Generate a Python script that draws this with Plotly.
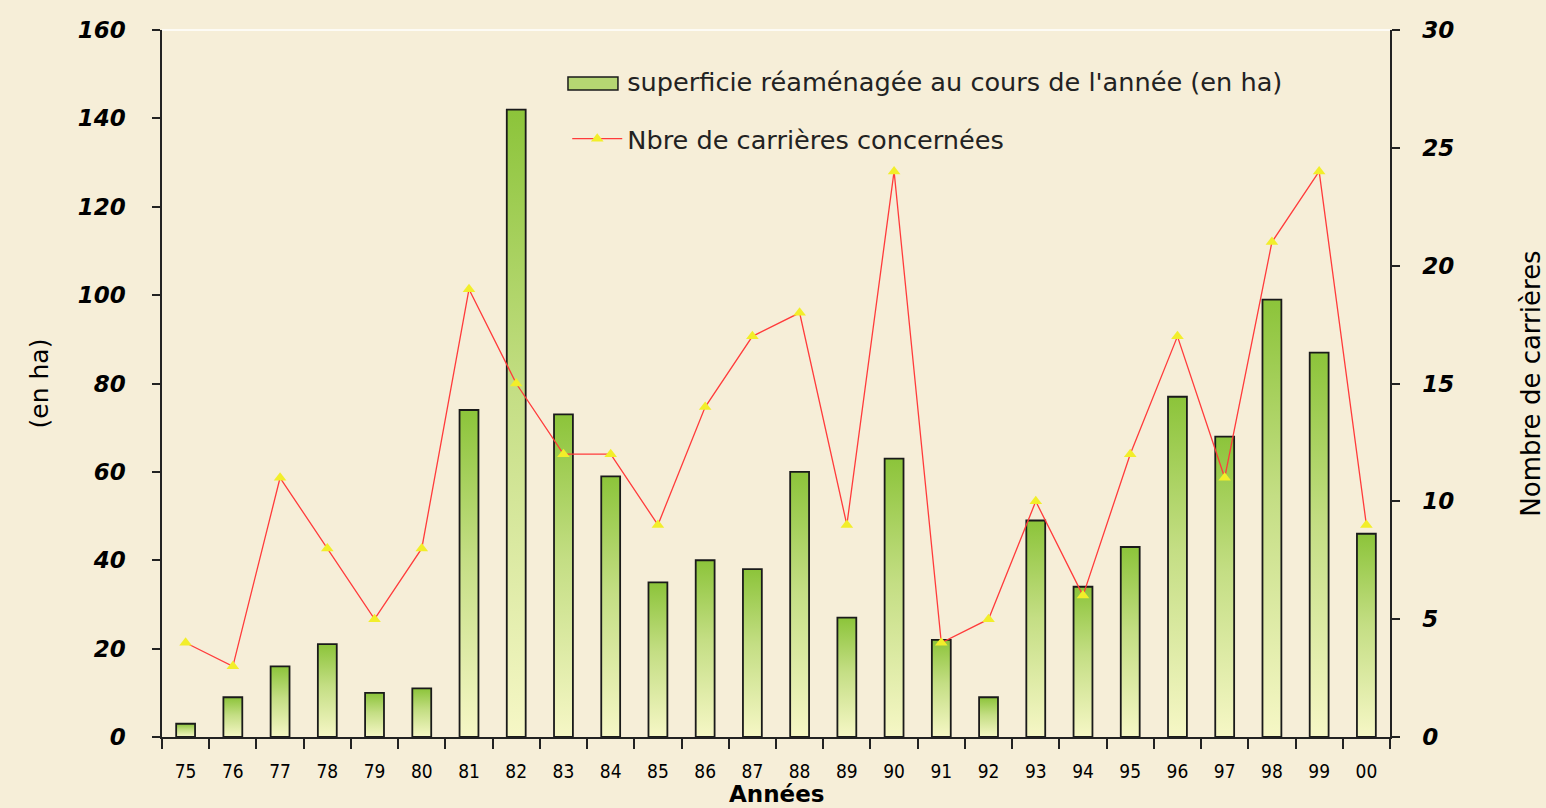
import plotly.graph_objects as go

# Années (labels) and values
annees = ["75", "76", "77", "78", "79", "80", "81", "82", "83", "84", "85", "86", "87",
          "88", "89", "90", "91", "92", "93", "94", "95", "96", "97", "98", "99", "00"]
superficie = [3, 9, 16, 21, 10, 11, 74, 142, 73, 59, 35, 40, 38,
              60, 27, 63, 22, 9, 49, 34, 43, 77, 68, 99, 87, 46]
carrieres = [4, 3, 11, 8, 5, 8, 19, 15, 12, 12, 9, 14, 17,
             18, 9, 24, 4, 5, 10, 6, 12, 17, 11, 21, 24, 9]

BG = "#f6eed8"
GREEN = "#8cc43a"
PALE = "#f6f7c6"
half_w = 0.2
idx = list(range(len(annees)))
sup_name = "superficie réaménagée au cours de l'année (en ha)"

fig = go.Figure()

# bars drawn as filled shapes so they can carry a vertical gradient
for i, v in zip(idx, superficie):
    fig.add_trace(go.Scatter(
        x=[i - half_w, i - half_w, i + half_w, i + half_w, i - half_w],
        y=[0, v, v, 0, 0],
        mode="lines", fill="toself",
        fillcolor=GREEN,
        fillgradient=dict(type="vertical", colorscale=[[0, PALE], [0.55, "#c4de84"], [1, GREEN]]),
        line=dict(color="#1a1a1a", width=1.8),
        name=sup_name, legendgroup="sup", showlegend=False, hoverinfo="skip",
    ))

# empty bar trace for the legend text, swatch is drawn as a shape below
fig.add_trace(go.Bar(
    x=[None], y=[None], name=sup_name, legendgroup="sup",
    marker=dict(color="rgba(0,0,0,0)", line=dict(width=0)),
))

fig.add_trace(go.Scatter(
    x=idx, y=carrieres, yaxis="y2",
    mode="lines+markers",
    line=dict(color="#ff3b3b", width=1.3),
    marker=dict(symbol="triangle-up", size=11, color="#f2ee2a"),
    name="Nbre de carrières concernées",
))

tick_font = dict(family="DejaVu Sans", size=23, color="black", style="italic", weight="bold")

fig.update_layout(
    width=1546, height=808,
    paper_bgcolor=BG, plot_bgcolor=BG,
    margin=dict(l=162, r=156, t=30, b=71),
    showlegend=True,
    legend=dict(x=0.33, y=0.96, xanchor="left", yanchor="top",
                bgcolor="rgba(0,0,0,0)", tracegroupgap=21, itemwidth=50,
                font=dict(family="DejaVu Sans", size=25.6, color="#222")),
    xaxis=dict(
        range=[-0.5, len(annees) - 0.5], automargin=False,
        tickmode="array", tickvals=idx, ticktext=annees,
        ticks="outside", ticklen=0, ticklabelstandoff=16,
        tickfont=dict(family="Liberation Sans Narrow, DejaVu Sans Condensed, sans-serif", size=19, color="black"),
        minor=dict(tickmode="linear", tick0=0.5, dtick=1, ticks="outside", ticklen=10,
                   tickcolor="#222", tickwidth=1.5, showgrid=False),
        showline=True, linecolor="#222", linewidth=1.5,
        showgrid=False, zeroline=False,
    ),
    yaxis=dict(
        range=[0, 160], dtick=20, automargin=False,
        ticks="outside", ticklen=8, tickwidth=1.5, tickcolor="#222",
        tickfont=tick_font, ticklabelstandoff=22,
        showline=True, linecolor="#222", linewidth=1.5,
        showgrid=False, zeroline=False,
        title=dict(text="(en ha)", font=dict(family="DejaVu Sans", size=25, color="black"), standoff=22),
    ),
    yaxis2=dict(
        range=[0, 30], dtick=5, overlaying="y", side="right", automargin=False,
        ticks="outside", ticklen=8, tickwidth=1.5, tickcolor="#222",
        tickfont=tick_font, ticklabelstandoff=18,
        showline=True, linecolor="#222", linewidth=1.5,
        showgrid=False, zeroline=False,
        title=dict(text="Nombre de carrières", font=dict(family="DejaVu Sans", size=26, color="black"), standoff=70),
    ),
)

# x axis title, placed just under the year labels
fig.add_annotation(text="<b>Années</b>", xref="paper", yref="paper", x=0.5, y=-0.08,
                   xanchor="center", yanchor="middle", showarrow=False,
                   font=dict(family="DejaVu Sans", size=23, color="black"))

# thin white frame line along the top of the plot area
fig.add_shape(type="line", xref="paper", yref="paper", x0=0, x1=1, y0=1, y1=1,
              line=dict(color="white", width=1.5))

# legend swatch for the bars (green box with dark outline)
fig.add_shape(type="rect", xref="paper", yref="paper", x0=0.3306, x1=0.3713, y0=0.915, y1=0.9335,
              fillcolor="#b5d672", line=dict(color="#1a1a1a", width=1.5))

fig.write_html("out.html", config={"displayModeBar": False},
               post_script="document.body.style.margin='0';")
